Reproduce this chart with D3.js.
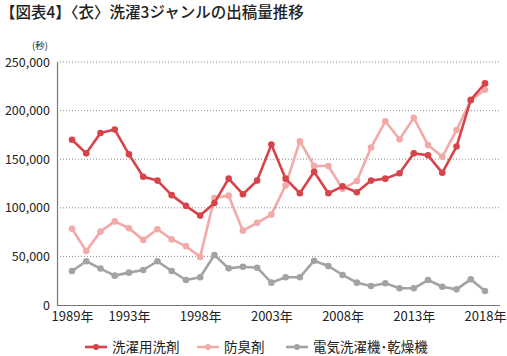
<!DOCTYPE html>
<html><head><meta charset="utf-8">
<script src="https://cdn.jsdelivr.net/npm/d3@7"></script>
<style>
html,body{margin:0;padding:0;background:#fff;}
svg{display:block;font-family:"Noto Sans CJK JP","Noto Sans",sans-serif;}
</style></head>
<body>
<svg id="c" width="507" height="356"></svg>
<script>
const years = d3.range(1989, 2019);
const detergent = [170000,156000,177000,180500,155000,132000,128000,113000,102000,92000,105000,130000,114000,128000,165000,130000,115000,137000,115000,122000,116000,128000,130000,135500,156000,154000,136000,163000,211000,228000];
const deodorant = [78500,55500,75500,86000,79000,67000,78000,67500,60500,49500,110000,112500,76500,84500,93000,123000,168500,143000,143000,119500,127500,162000,189000,170500,192500,164500,152500,180000,210500,221500];
const washer = [35000,45000,37500,30200,33300,36000,45000,35000,25700,28500,51400,37700,39400,38400,23000,28500,28500,45600,40100,30900,23000,19500,22300,17200,17200,25700,18800,16100,26400,14400];
const yTicks = [0,50000,100000,150000,200000,250000];
const xTickYears = [1989,1993,1998,2003,2008,2013,2018];
const seriesNames = ["洗濯用洗剤","防臭剤","電気洗濯機･乾燥機"];
const colors = ["#d8434a","#f2aaa8","#a3a3a3"];
const title = "【図表4】〈衣〉洗濯3ジャンルの出稿量推移";

const svg = d3.select("#c");
const x = d3.scaleLinear().domain([1989,2018]).range([72,485]);
const y = d3.scaleLinear().domain([0,250000]).range([305,62]);

svg.append("text").attr("x",0).attr("y",18).attr("font-size",15.5).attr("font-weight",500)
  .attr("fill","#222").text(title);
svg.append("text").attr("x",32).attr("y",49).attr("font-size",9.5).attr("fill","#222").text("(秒)");

// grid
svg.append("g").selectAll("line").data(yTicks.filter(d=>d>0)).join("line")
  .attr("x1",57).attr("x2",500).attr("y1",d=>y(d)).attr("y2",d=>y(d))
  .attr("stroke","#888").attr("stroke-width",1).attr("stroke-dasharray","1,2");

// y axis
const ya = svg.append("g").attr("transform","translate(57,0)")
  .call(d3.axisLeft(y).tickValues(yTicks).tickSize(0).tickPadding(7).tickFormat(d3.format(",")));
ya.select(".domain").attr("stroke","#777").attr("stroke-width",1.2);
ya.selectAll("text").attr("font-size",12.5).attr("fill","#222").attr("font-family","'Noto Sans CJK JP',sans-serif");

// x axis
const xa = svg.append("g").attr("transform","translate(0,305)")
  .call(d3.axisBottom(x).tickValues(xTickYears).tickSize(0).tickPadding(7).tickFormat(d=>d+"年"));
xa.select(".domain").attr("d","M57,0.5H500").attr("stroke","#777").attr("stroke-width",1.2);
xa.selectAll("text").attr("font-size",13).attr("fill","#222").attr("font-family","'Noto Sans CJK JP',sans-serif");

const data = [detergent, deodorant, washer];
const line = d3.line().x((d,i)=>x(years[i])).y(d=>y(d));
[2,1,0].forEach(k=>{
  const g = svg.append("g");
  g.append("path").datum(data[k]).attr("d",line).attr("fill","none")
    .attr("stroke",colors[k]).attr("stroke-width",2.6).attr("stroke-linejoin","round");
  g.selectAll("circle").data(data[k]).join("circle")
    .attr("cx",(d,i)=>x(years[i])).attr("cy",d=>y(d)).attr("r",3.3).attr("fill",colors[k]);
});

// legend
const legX = [85,197,286];
seriesNames.forEach((n,k)=>{
  const g = svg.append("g").attr("transform",`translate(${legX[k]},347)`);
  g.append("line").attr("x1",0).attr("x2",22).attr("stroke",colors[k]).attr("stroke-width",2.6);
  g.append("circle").attr("cx",11).attr("r",3).attr("fill",colors[k]);
  g.append("text").attr("x",27).attr("y",5).attr("font-size",13.5).attr("fill","#222").text(n);
});
</script>
</body></html>
